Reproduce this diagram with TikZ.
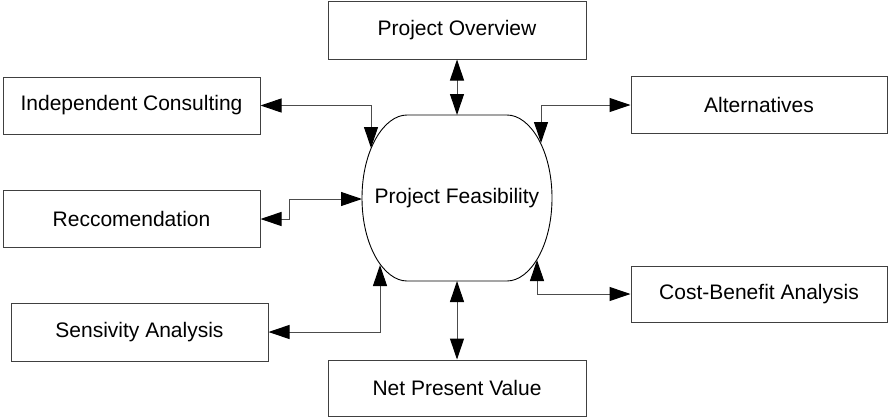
\documentclass[tikz,border=0pt]{standalone}
\usepackage{fontspec}
\setmainfont{Liberation Sans}
\usetikzlibrary{arrows.meta}

\tikzset{
  box/.style={draw=black!75, line width=1pt, inner sep=0pt, fill=white,
    minimum width=257pt, minimum height=57pt,
    font=\fontsize{21}{25}\selectfont},
  conn/.style={draw=black!70, line width=1pt,
    {Triangle[length=21pt,width=14pt,color=black]}-{Triangle[length=21pt,width=14pt,color=black]}},
  outline/.style={draw=black, line width=0.9pt}
}

\begin{document}
\begin{tikzpicture}[x=1pt, y=-1pt]
  \useasboundingbox (0,0) rectangle (888,418);

  % surrounding topics
  \node[box, minimum width=258pt, minimum height=58pt] (po)   at (457,30)    {Project Overview};
  \node[box] (ic)   at (131.5,105.5) {Independent Consulting};
  \node[box, minimum width=256pt] (alt)  at (759,105)   {Alternatives};
  \node[box] (rec)  at (131.5,219)   {Reccomendation};
  \node[box, minimum height=58pt] (sens) at (139.5,332)  {Sensivity Analysis};
  \node[box, minimum width=256pt, minimum height=56pt] (cb)   at (759,294)   {Cost-Benefit Analysis};
  \node[box, minimum width=258pt, minimum height=56pt] (npv)  at (457,388)   {Net Present Value};

  % central process shape: flat top and bottom, bulging sides
  \draw[outline] (407,115) -- (507,115)
    .. controls (530,115) and (552,150) .. (552,198)
    .. controls (552,246) and (530,281) .. (507,281)
    -- (407,281)
    .. controls (384,281) and (362,246) .. (362,198)
    .. controls (362,150) and (384,115) .. (407,115) -- cycle;
  \node[font=\fontsize{21}{25}\selectfont] (pf) at (457,198) {Project Feasibility};

  % attachment points on the central outline
  \coordinate (pf-t)  at (457,115);
  \coordinate (pf-b)  at (457,281);
  \coordinate (pf-ul) at (371,148);
  \coordinate (pf-ur) at (541,143);
  \coordinate (pf-l)  at (362,199);
  \coordinate (pf-ll) at (380,265);
  \coordinate (pf-lr) at (537,260);

  % connectors
  \draw[conn] (po.south) -- (pf-t);
  \draw[conn] (ic.east) -| (pf-ul);
  \draw[conn] (alt.west) -| (pf-ur);
  \draw[conn] (rec.east) -- ++(29,0) |- (pf-l);
  \draw[conn] (sens.east) -| (pf-ll);
  \draw[conn] (cb.west) -| (pf-lr);
  \draw[conn] (pf-b) -- (npv.north);
\end{tikzpicture}
\end{document}
